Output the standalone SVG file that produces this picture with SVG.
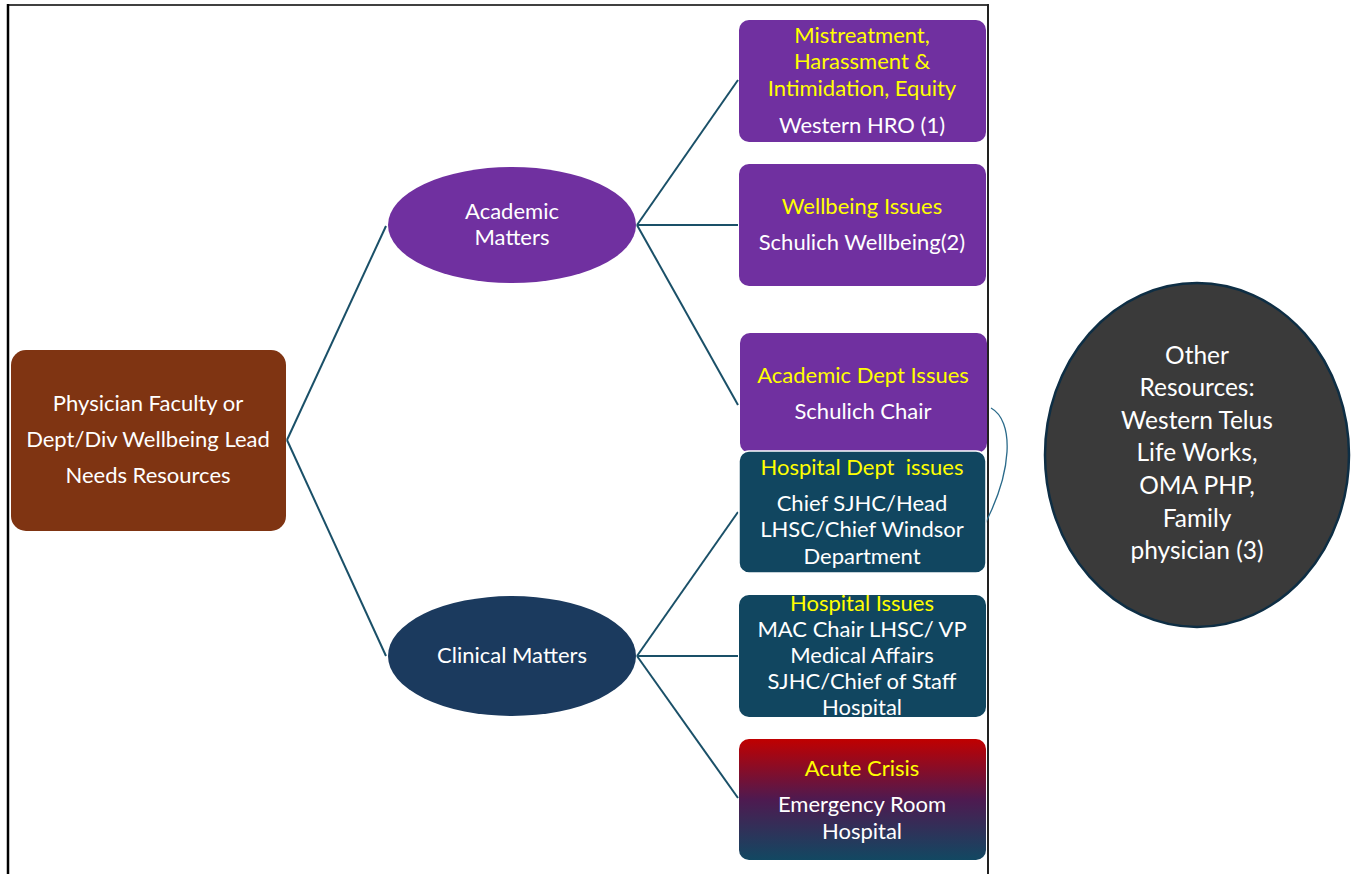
<svg xmlns="http://www.w3.org/2000/svg" width="1354" height="874" viewBox="0 0 1354 874">
<style>
text{font-family:Lato,"Open Sans","Liberation Sans",sans-serif;text-anchor:middle;}
.w{fill:#ffffff;font-size:22px;}
.y{fill:#ffff00;font-size:22px;}
.big{fill:#ffffff;font-size:24.5px;}
.purple{fill:#7030A0;}
.teal{fill:#114660;}
.conn line{stroke:#1A5068;stroke-width:2;}
</style>
<defs>
<linearGradient id="crisis" x1="0" y1="0" x2="0" y2="1">
<stop offset="0" stop-color="#C00000"/>
<stop offset="0.5" stop-color="#4E1A50"/>
<stop offset="1" stop-color="#124862"/>
</linearGradient>
</defs>
<rect x="0" y="0" width="1354" height="874" fill="#ffffff"/>
<g id="frame" stroke="#000" fill="none">
<line x1="8" y1="5" x2="989" y2="5" stroke-width="1.5"/>
<line x1="8" y1="4" x2="8" y2="874" stroke-width="2.5"/>
<line x1="988" y1="4" x2="988" y2="874" stroke-width="2" stroke="#222"/>
</g>
<g id="connectors" class="conn">
<line x1="287" y1="440" x2="386" y2="226"/>
<line x1="287" y1="440" x2="386" y2="656"/>
<line x1="637" y1="225" x2="738" y2="80"/>
<line x1="637" y1="225" x2="738" y2="225"/>
<line x1="637" y1="225" x2="738" y2="405"/>
<line x1="637" y1="656" x2="738" y2="512"/>
<line x1="637" y1="656" x2="738" y2="656"/>
<line x1="637" y1="656" x2="738" y2="798"/>
<path d="M991,408 C1013,420 1016,470 978,537" fill="none" stroke="#2A6A8A" stroke-width="1.3"/>
</g>
<g id="root">
<rect x="11" y="350" width="275" height="181" rx="15" fill="#7F3412"/>
<text class="w" x="148" y="411">Physician Faculty or</text>
<text class="w" x="148" y="447">Dept/Div Wellbeing Lead</text>
<text class="w" x="148" y="483">Needs Resources</text>
</g>
<g id="academic">
<ellipse cx="512" cy="225" rx="124" ry="58" class="purple"/>
<text class="w" x="512" y="219">Academic</text>
<text class="w" x="512" y="245">Matters</text>
</g>
<g id="clinical">
<ellipse cx="512" cy="656" rx="124" ry="60" fill="#1B3A5E"/>
<text class="w" x="512" y="663">Clinical Matters</text>
</g>
<g id="mistreatment">
<rect x="739" y="20" width="247" height="122" rx="10" class="purple"/>
<text class="y" x="862" y="43">Mistreatment,</text>
<text class="y" x="862" y="69">Harassment &amp;</text>
<text class="y" x="862" y="96">Intimidation, Equity</text>
<text class="w" x="862" y="133">Western HRO (1)</text>
</g>
<g id="wellbeing">
<rect x="739" y="164" width="247" height="122" rx="10" class="purple"/>
<text class="y" x="862" y="214">Wellbeing Issues</text>
<text class="w" x="862" y="250">Schulich Wellbeing(2)</text>
</g>
<g id="academic-dept">
<rect x="740" y="333" width="247" height="120" rx="10" class="purple"/>
<text class="y" x="863" y="383">Academic Dept Issues</text>
<text class="w" x="863" y="419">Schulich Chair</text>
</g>
<g id="hospital-dept">
<rect x="739" y="451" width="247" height="122" rx="10" class="teal" stroke="#ffffff" stroke-width="1.5"/>
<text class="y" x="862" y="475" style="white-space:pre">Hospital Dept  issues</text>
<text class="w" x="862" y="511">Chief SJHC/Head</text>
<text class="w" x="862" y="537">LHSC/Chief Windsor</text>
<text class="w" x="862" y="564">Department</text>
</g>
<g id="hospital">
<rect x="739" y="595" width="247" height="122" rx="10" class="teal"/>
<text class="y" x="862" y="611">Hospital Issues</text>
<text class="w" x="862" y="637">MAC Chair LHSC/ VP</text>
<text class="w" x="862" y="663">Medical Affairs</text>
<text class="w" x="862" y="689">SJHC/Chief of Staff</text>
<text class="w" x="862" y="715">Hospital</text>
</g>
<g id="acute">
<rect x="739" y="739" width="247" height="121" rx="10" fill="url(#crisis)"/>
<text class="y" x="862" y="776">Acute Crisis</text>
<text class="w" x="862" y="812">Emergency Room</text>
<text class="w" x="862" y="839">Hospital</text>
</g>
<g id="other">
<ellipse cx="1197" cy="455" rx="152" ry="172" fill="#3A3A3A" stroke="#0E2E44" stroke-width="2.5"/>
<text class="big" x="1197" y="364">Other</text>
<text class="big" x="1197" y="396">Resources:</text>
<text class="big" x="1197" y="429">Western Telus</text>
<text class="big" x="1197" y="461">Life Works,</text>
<text class="big" x="1197" y="494">OMA PHP,</text>
<text class="big" x="1197" y="527">Family</text>
<text class="big" x="1197" y="559">physician (3)</text>
</g>
</svg>
